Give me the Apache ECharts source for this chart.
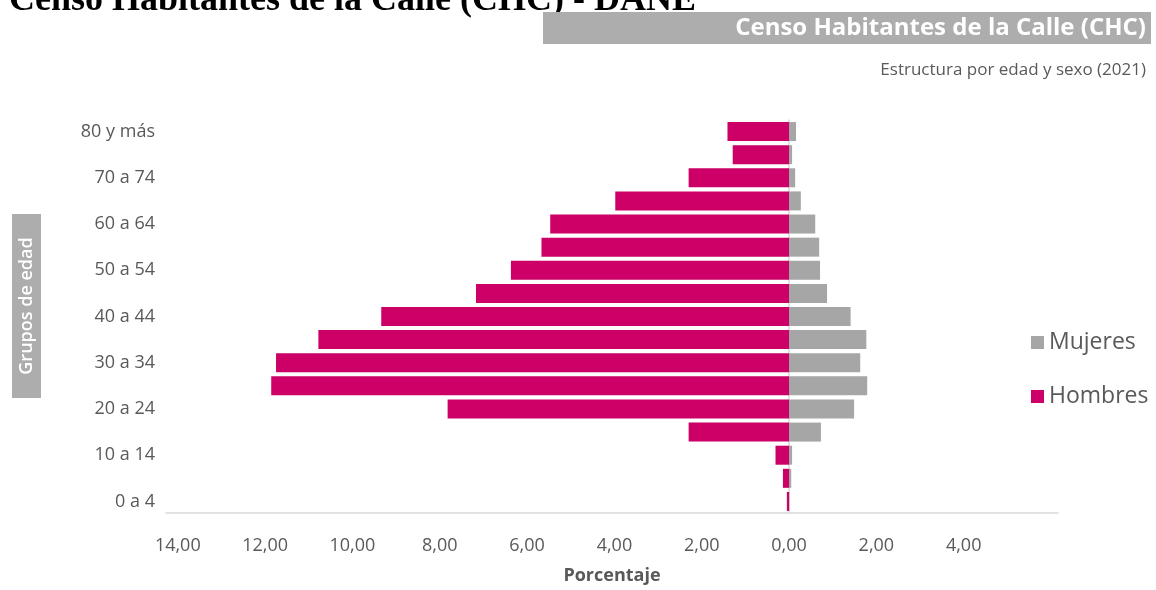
<!DOCTYPE html>
<html>
<head>
<meta charset="utf-8">
<script src="https://cdn.jsdelivr.net/npm/echarts@6/dist/echarts.min.js"></script>
<style>html,body{margin:0;padding:0;background:#fff}#c{width:1156px;height:590px}</style>
</head>
<body>
<div id="c"></div>
<script>
var categories = ["0 a 4","5 a 9","10 a 14","15 a 19","20 a 24","25 a 29","30 a 34","35 a 39","40 a 44","45 a 49","50 a 54","55 a 59","60 a 64","65 a 69","70 a 74","75 a 79","80 y más"];
var hombres = [0.05,0.14,0.31,2.30,7.82,11.86,11.75,10.78,9.34,7.17,6.37,5.67,5.47,3.98,2.30,1.29,1.41];
var mujeres = [0.01,0.05,0.07,0.73,1.49,1.79,1.63,1.77,1.41,0.87,0.71,0.69,0.60,0.27,0.14,0.07,0.16];
var xTicks = [-14,-12,-10,-8,-6,-4,-2,0,2,4];

var FONT = '"Open Sans", sans-serif';
var chart = echarts.init(document.getElementById('c'), null, {renderer:'canvas'});
chart.setOption({
  animation:false,
  backgroundColor:'#ffffff',
  textStyle:{fontFamily:FONT},
  grid:{left:166,right:98,top:120,bottom:76,containLabel:false},
  legend:{
    data:['Mujeres','Hombres'],
    orient:'vertical',left:1026,top:326,
    icon:'rect',itemWidth:13,itemHeight:13,itemGap:31,
    textStyle:{fontFamily:FONT,fontSize:23,color:'#595959'}
  },
  xAxis:{
    type:'value',min:-14.27,max:6.16,
    name:'Porcentaje',nameLocation:'middle',nameGap:54,
    nameTextStyle:{fontFamily:FONT,fontSize:18,fontWeight:'bold',color:'#595959'},
    splitLine:{show:false},
    axisTick:{show:false},
    axisLine:{show:true,lineStyle:{color:'#D9D9D9',width:1.5}},
    axisLabel:{customValues:xTicks,margin:24,fontFamily:FONT,fontSize:18,color:'#595959',
      formatter:function(v){return Math.abs(v).toFixed(2).replace('.',',');}}
  },
  yAxis:{
    type:'category',data:categories,
    axisTick:{show:false},
    axisLine:{show:true,lineStyle:{color:'#D9D9D9',width:1.5}},
    axisLabel:{interval:1,margin:11,fontFamily:FONT,fontSize:18,color:'#595959'}
  },
  series:[
    {name:'Mujeres',type:'bar',stack:'p',barWidth:19,
     itemStyle:{color:'#A6A6A6'},data:mujeres},
    {name:'Hombres',type:'bar',stack:'p',barWidth:19,
     itemStyle:{color:'#CC0066'},data:hombres.map(function(v){return -v;})}
  ],
  graphic:[
    {type:'text',left:9,top:-17,style:{text:'Censo Habitantes de la Calle (CHC) - DANE',font:'bold 36px "Liberation Serif", serif',fill:'#000'}},
    {type:'rect',shape:{x:543,y:12,width:608,height:32},style:{fill:'#ADADAD'}},
    {type:'text',x:1146,y:28,style:{text:'Censo Habitantes de la Calle (CHC)',font:'bold 24px "Open Sans", sans-serif',fill:'#ffffff',align:'right',verticalAlign:'middle'}},
    {type:'text',x:1146,y:70,style:{text:'Estructura por edad y sexo (2021)',font:'17px "Open Sans", sans-serif',fill:'#595959',align:'right',verticalAlign:'middle'}},
    {type:'rect',shape:{x:12,y:214,width:29,height:184},style:{fill:'#ADADAD'}},
    {type:'text',x:27,y:306,rotation:Math.PI/2,style:{text:'Grupos de edad',font:'600 18px "Open Sans", sans-serif',fill:'#ffffff',align:'center',verticalAlign:'middle'}}
  ]
});
</script>
</body>
</html>
